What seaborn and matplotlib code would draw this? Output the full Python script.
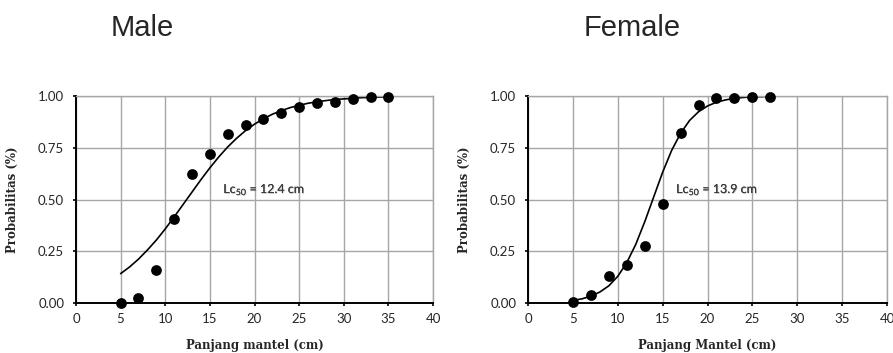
import matplotlib
matplotlib.use("Agg")
import matplotlib.pyplot as plt
import matplotlib.patheffects as pe
import seaborn as sns

# --- data ---
male_len = [5, 7, 9, 11, 13, 15, 17, 19, 21, 23, 25, 27, 29, 31, 33, 35]
male_prob = [0.0, 0.026, 0.158, 0.404, 0.623, 0.72, 0.818, 0.858, 0.887, 0.918,
             0.945, 0.966, 0.973, 0.985, 0.997, 0.997]
female_len = [5, 7, 9, 11, 13, 15, 17, 19, 21, 23, 25, 27]
female_prob = [0.003, 0.040, 0.132, 0.185, 0.274, 0.478, 0.82, 0.958, 0.989,
               0.992, 0.994, 0.997]

# fitted curves, read at 1 cm steps
male_fit_len = list(range(5, 36))
male_fit_prob = [0.142, 0.174, 0.212, 0.256, 0.304, 0.358, 0.416, 0.476, 0.536,
                 0.596, 0.653, 0.706, 0.754, 0.796, 0.833, 0.864, 0.890, 0.912,
                 0.929, 0.944, 0.955, 0.965, 0.972, 0.978, 0.983, 0.986, 0.989,
                 0.992, 0.993, 0.995, 0.996]
female_fit_len = list(range(5, 28))
female_fit_prob = [0.013, 0.020, 0.033, 0.053, 0.083, 0.129, 0.195, 0.283, 0.392,
                   0.512, 0.632, 0.737, 0.820, 0.882, 0.924, 0.952, 0.970, 0.981,
                   0.989, 0.993, 0.996, 0.997, 0.998]

titles = ["Male", "Female"]
xlabels = ["Panjang mantel (cm)", "Panjang Mantel (cm)"]
lc50_text = ["Lc$_{50}$ = 12.4 cm", "Lc$_{50}$ = 13.9 cm"]
lc50_pos = [(16.5, 0.55), (16.5, 0.55)]

sns.set_style("white")
plt.rcParams["font.family"] = ["Lato", "DejaVu Sans"]
plt.rcParams["mathtext.fontset"] = "custom"
plt.rcParams["mathtext.rm"] = "Lato"

fig = plt.figure(figsize=(8.93, 3.53), dpi=100)
ax1 = fig.add_axes([0.0851, 0.1416, 0.3998, 0.5864])
ax2 = fig.add_axes([0.5913, 0.1416, 0.4020, 0.5864])

panels = [
    (ax1, male_len, male_prob, male_fit_len, male_fit_prob),
    (ax2, female_len, female_prob, female_fit_len, female_fit_prob),
]

for i, (ax, xs, ys, fx, fy) in enumerate(panels):
    sns.lineplot(x=fx, y=fy, ax=ax, color="black", linewidth=1.2)
    sns.scatterplot(x=xs, y=ys, ax=ax, color="black", s=60, edgecolor="black",
                    linewidth=0, zorder=5, clip_on=False)
    ax.set_xlim(0, 40)
    ax.set_ylim(0, 1)
    ax.set_xticks(range(0, 41, 5))
    ax.set_yticks([0, 0.25, 0.5, 0.75, 1.0])
    ax.set_yticklabels(["0.00", "0.25", "0.50", "0.75", "1.00"])
    ax.grid(True, color="#a6a6a6", linewidth=1.0)
    ax.set_axisbelow(True)
    for s in ["top", "right"]:
        ax.spines[s].set_color("#a6a6a6")
        ax.spines[s].set_linewidth(1.0)
    for s in ["left", "bottom"]:
        ax.spines[s].set_color("black")
        ax.spines[s].set_linewidth(1.4)
    ax.tick_params(axis="both", direction="out", length=2.5, width=1.2, color="black",
                   labelsize=9.5, bottom=True, left=True)
    ax.tick_params(axis="y", pad=6)
    ax.tick_params(axis="x", pad=5)
    ax.set_ylabel("Probabilitas (%)", family="DejaVu Serif", fontweight="bold",
                  fontsize=8.5)
    ax.yaxis.set_label_coords(-0.16, 0.5)
    ax.set_xlabel(xlabels[i], family="DejaVu Serif", fontweight="bold",
                  fontsize=8.5)
    ax.xaxis.set_label_coords(0.5, -0.175)
    ax.text(lc50_pos[i][0], lc50_pos[i][1], lc50_text[i], fontsize=9,
            va="center", ha="left", color="#3a3a3a",
            path_effects=[pe.withSimplePatchShadow(offset=(0.6, -0.6),
                                                   shadow_rgbFace="#bbbbbb", alpha=0.6),
                          pe.Normal()])

fig.text(0.159, 0.922, titles[0], family="Liberation Sans", fontsize=21,
         ha="center", va="center")
fig.text(0.7077, 0.922, titles[1], family="Liberation Sans", fontsize=21,
         ha="center", va="center")

fig.savefig("out.png", dpi=100)
